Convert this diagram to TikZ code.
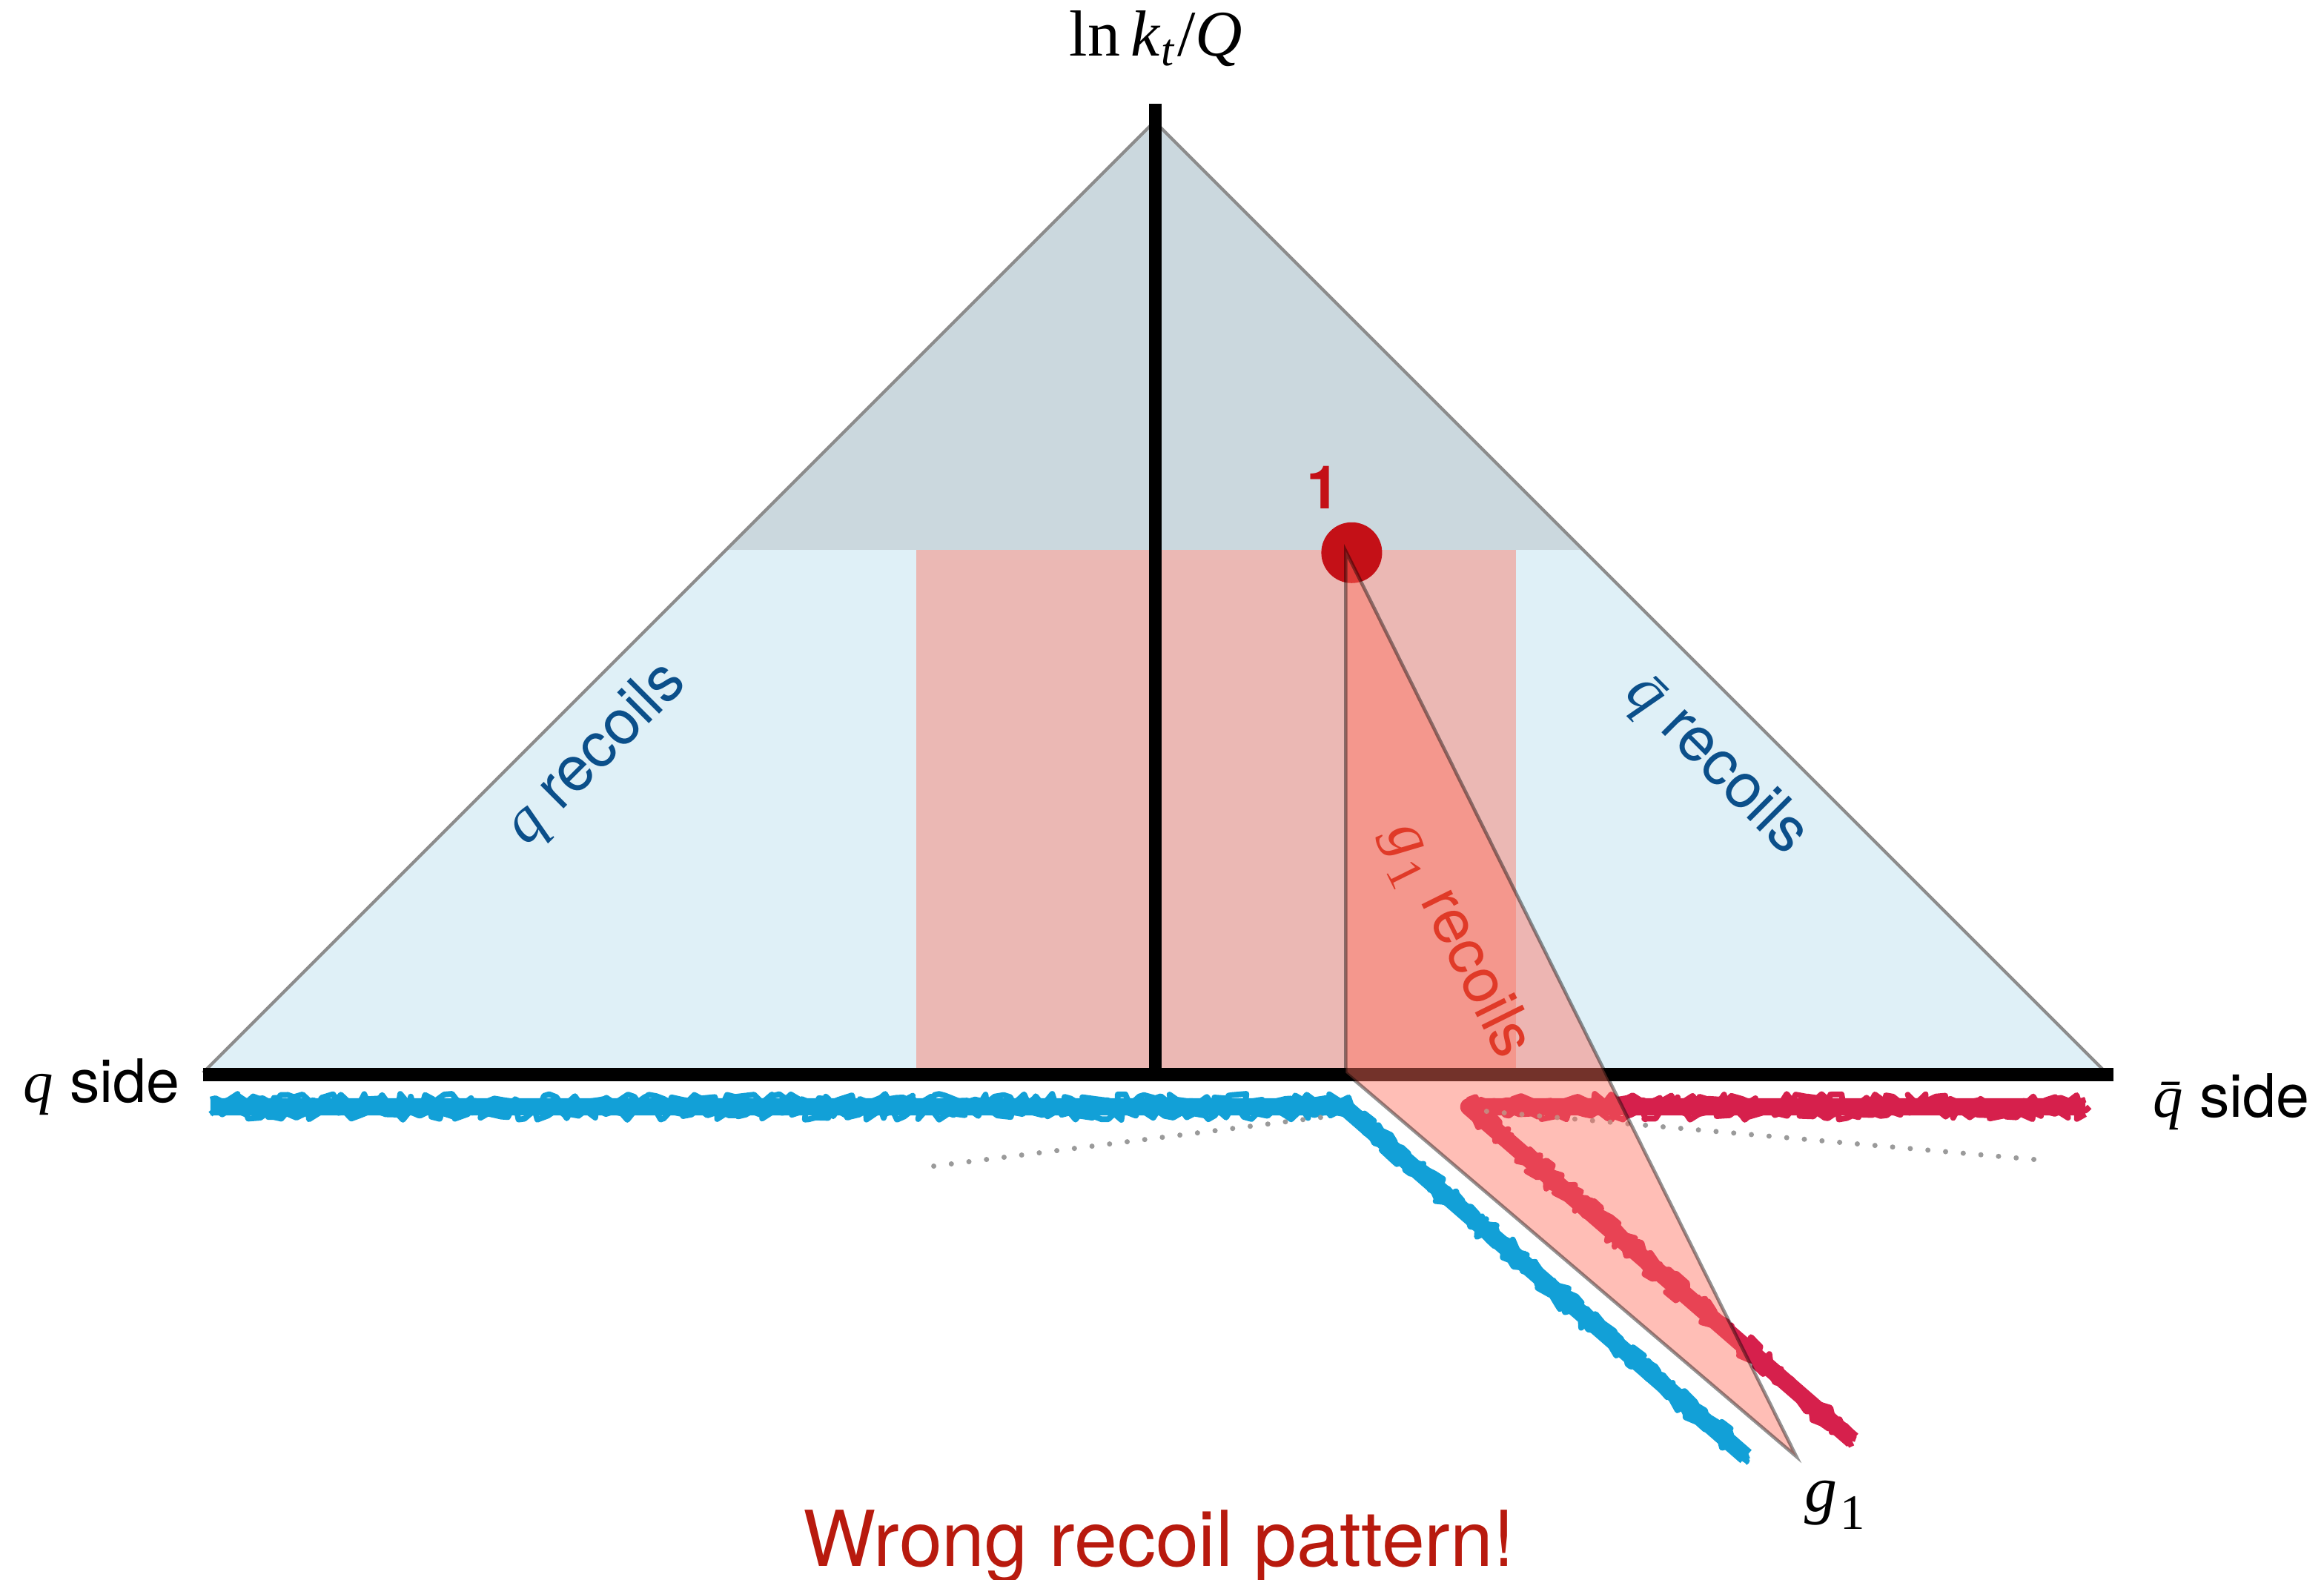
\documentclass[tikz,border=0pt]{standalone}
\usepackage{fontspec}
\setmainfont{Liberation Serif}
\setsansfont{TeX Gyre Heros}
\usepackage{xcolor}
\usepackage{tikz}
\usetikzlibrary{decorations.pathmorphing}

\definecolor{coneback}{HTML}{DFF0F7}
\definecolor{conetop}{HTML}{CBD8DE}
\definecolor{bandpink}{HTML}{EBB8B4}
\definecolor{edgegrey}{HTML}{8C8C8C}
\definecolor{recblue}{HTML}{0B4F8A}
\definecolor{glred}{HTML}{E03A28}
\definecolor{kinkred}{HTML}{C41017}
\definecolor{crayblue}{HTML}{12A0D7}
\definecolor{crayred}{HTML}{D6204C}
\definecolor{conesalmon}{HTML}{FF6F5E}
\definecolor{warnred}{HTML}{B81A0E}
\definecolor{dotgrey}{HTML}{9A9A9A}

\newcommand{\qit}{{\rmfamily\itshape q}}
\newcommand{\qbarit}{{\rmfamily\itshape \=q}}
\newcommand{\gone}{{\rmfamily\itshape g\kern0.5pt\raisebox{-0.28em}{\upshape\fontsize{9.5}{10}\selectfont 1}}}
\newcommand{\crayonline}[2]{%
  \draw[crayon, #1] #2;
  \draw[crayonedge, #1, transform canvas={yshift=1.4pt}] #2;
  \draw[crayonedge, #1, transform canvas={yshift=-1.4pt}] #2;
  \draw[crayonedge, #1, transform canvas={xshift=0.8pt}] #2;
}

\begin{document}
\begin{tikzpicture}[
    x=0.01cm, y=-0.01cm,
    every node/.style={font=\sffamily, inner sep=0pt},
    axis/.style={line width=2.55pt},
    coneedge/.style={draw=edgegrey, line width=0.6pt},
    recoil/.style={font=\sffamily\fontsize{12}{14}\selectfont, text=recblue},
    crayon/.style={line width=3.3pt, line join=round},
    crayonedge/.style={line width=1.1pt, line join=round, decorate,
        decoration={random steps, segment length=1.1pt, amplitude=1.1pt}},
    ghost/.style={draw=dotgrey, line width=1pt, line cap=round, dash pattern=on 0pt off 3.4pt},
    g1cone/.style={fill=conesalmon, fill opacity=0.45, draw=black, draw opacity=0.42, line width=0.65pt},
]
\pgfmathsetseed{7}
\useasboundingbox (0,0) rectangle (1568,1066);

\coordinate (apex) at (779,82);
\coordinate (qend) at (137,724);
\coordinate (qbend) at (1421,724);
\coordinate (emit) at (908,372);
\coordinate (foot) at (908,724);
\coordinate (gtip) at (1212,983);

% Lund plane
\fill[coneback] (qend) -- (apex) -- (qbend) -- cycle;
\begin{scope}
  \clip (0,0) rectangle (1568,371);
  \fill[conetop] (qend) -- (apex) -- (qbend) -- cycle;
\end{scope}
\fill[bandpink] (618,371) rectangle (1023,724);
\draw[coneedge] (qend) -- (apex) -- (qbend);

\draw[axis] (137,725) -- (1426,725);
\draw[axis] (779.5,70) -- (779.5,725);

% recoiling legs
\coordinate (b1) at (142,747);
\coordinate (b2) at (907,747);
\coordinate (b3) at (1178,983);
\coordinate (r1) at (1407,747);
\coordinate (r2) at (991,747);
\coordinate (r3) at (1250,972);
\crayonline{crayblue}{(b1) -- (b2) -- (b3)}
\crayonline{crayred}{(r1) -- (r2) -- (r3)}

\draw[ghost] (630,787) -- (892,754);
\draw[ghost] (1003,750) -- (1378,783);

\node[circle, fill=kinkred, minimum size=0.41cm] (kink) at (912,373) {};
\node[font=\sffamily\bfseries\fontsize{11.5}{13}\selectfont, text=kinkred] (onelabel) at (893,329) {1};

\filldraw[g1cone] (emit) -- (foot) -- (gtip) -- cycle;

% labels
\node[anchor=base, font=\rmfamily\fontsize{12.5}{15}\selectfont] (lnkt) at (780,38)
  {ln\,\textit{k}\textsubscript{\textit{t}}/\textit{Q}};
\node[anchor=base east, font=\sffamily\fontsize{11.5}{14}\selectfont] (qside) at (122,744) {\qit\ side};
\node[anchor=base west, font=\sffamily\fontsize{11.5}{14}\selectfont] (qbside) at (1452,754) {\qbarit\ side};
\node[recoil, rotate=45] (qrec) at (402,509) {\qit\ recoils};
\node[recoil, rotate=-45] (qbrec) at (1158,516) {\qbarit\ recoils};
\node[recoil, text=glred, rotate=-63.5] (grec) at (982,635) {\gone\ recoils};
\node[anchor=base west, font=\rmfamily\fontsize{12.5}{15}\selectfont] (glabel) at (1217,1020) {\gone};
\node[anchor=base, font=\sffamily\fontsize{14.8}{18}\selectfont, text=warnred] (verdict) at (782,1057)
  {Wrong recoil pattern!};
\end{tikzpicture}
\end{document}
